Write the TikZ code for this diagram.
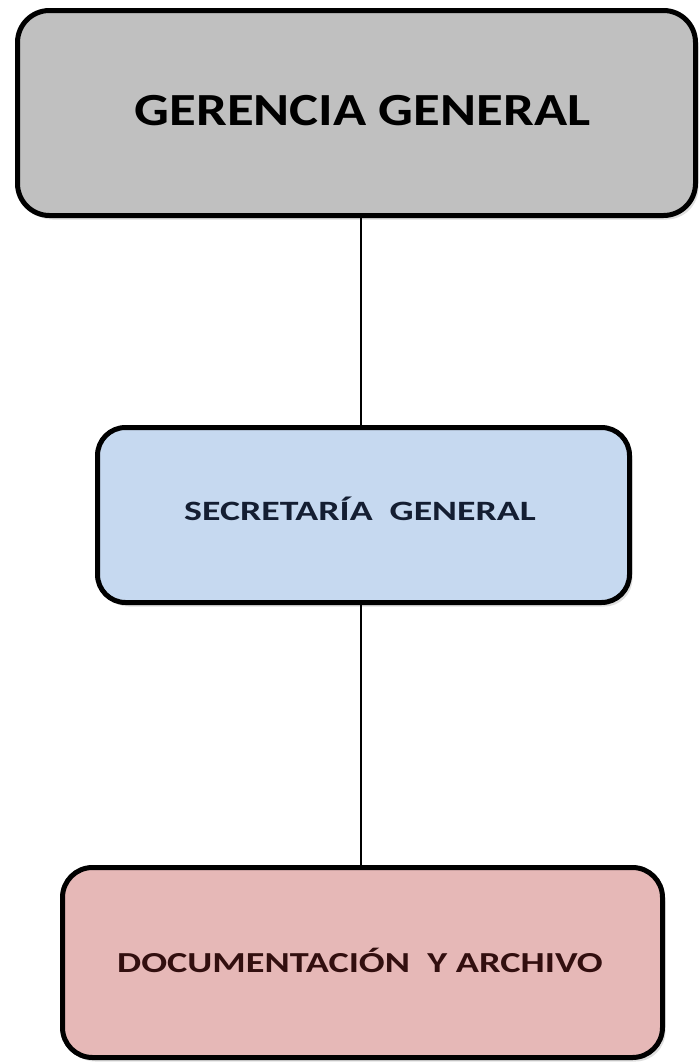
\documentclass[tikz,border=0pt]{standalone}
\usepackage{fontspec}
\setmainfont{Carlito}
\usetikzlibrary{shadows}
\definecolor{boxgray}{RGB}{192,192,192}
\definecolor{boxblue}{RGB}{198,217,240}
\definecolor{boxpink}{RGB}{230,184,183}
\definecolor{txtblue}{RGB}{20,30,50}
\definecolor{txtred}{RGB}{50,15,15}
\begin{document}
\begin{tikzpicture}[x=1pt,y=1pt,
  orgbox/.style={draw=black, line width=5pt, rounded corners=30pt, rectangle,
    inner sep=0pt, outer sep=0pt, text depth=0pt,
    drop shadow={shadow xshift=3pt, shadow yshift=-4pt, opacity=0.25}},
  link/.style={draw=black, line width=1.6pt}]
\useasboundingbox (0,0) rectangle (700,-1063);
\node[orgbox, fill=boxgray, minimum width=678pt, minimum height=205pt, rounded corners=32pt,
  text height=24pt, font=\bfseries\fontsize{46}{52}\selectfont] (b1) at (356.5,-113)
  {\hspace*{12pt}\scalebox{1.19}[1]{GERENCIA GENERAL}};
\node[orgbox, fill=boxblue, minimum width=532pt, minimum height=175pt, rounded corners=28pt,
  text height=10pt, text=txtblue, font=\bfseries\fontsize{28}{32}\selectfont] (b2) at (363.5,-515)
  {\scalebox{1.35}[1]{SECRETARÍA\ \ GENERAL}\hspace*{7pt}};
\node[orgbox, fill=boxpink, minimum width=600pt, minimum height=190pt, rounded corners=30pt,
  text height=19pt, text=txtred, font=\bfseries\fontsize{29}{33}\selectfont] (b3) at (362.5,-962.5)
  {\scalebox{1.32}[1]{DOCUMENTACIÓN\ \ Y ARCHIVO}\hspace*{5pt}};
\draw[link] ([xshift=-2.5pt]b2.north) -- ([xshift=-2.5pt]b2.north |- b1.south);
\draw[link] ([xshift=-1.5pt]b3.north) -- ([xshift=-1.5pt]b3.north |- b2.south);
\end{tikzpicture}
\end{document}
